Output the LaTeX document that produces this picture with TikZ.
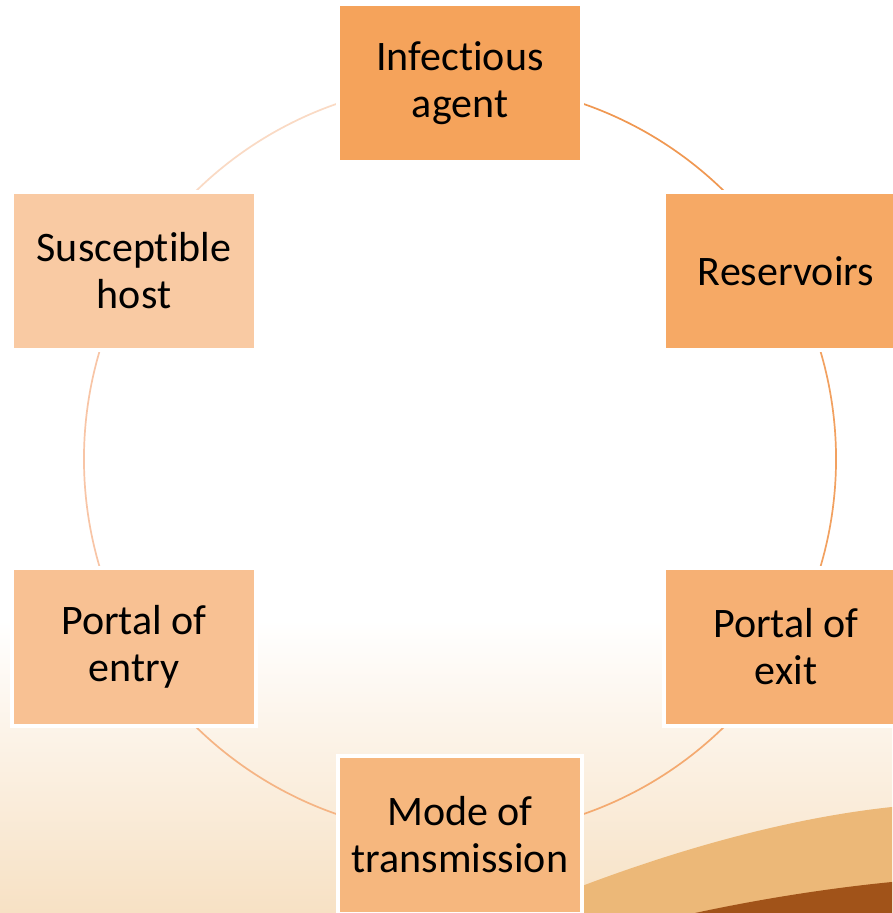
\documentclass[tikz,border=0pt]{standalone}
\usepackage{fontspec}
\setmainfont{Carlito}[Ligatures={NoCommon}]

\pgfdeclarelayer{backdrop}
\pgfdeclarelayer{ring}
\pgfsetlayers{backdrop,ring,main}

\begin{document}
\begin{tikzpicture}[x=1pt,y=1pt,
  stage/.style={draw=white,line width=4pt,inner sep=0pt,
    minimum width=244pt,minimum height=158pt,align=center,
    font=\fontsize{42}{47}\selectfont},
  link/.style={line width=1.7pt,bend left=30,looseness=0.91}]
\definecolor{creamColor}{RGB}{247,225,196}
\definecolor{tanColor}{RGB}{236,184,120}
\definecolor{brownColor}{RGB}{161,83,25}
\definecolor{agentColor}{RGB}{245,163,91}
\definecolor{resColor}{RGB}{246,169,101}
\definecolor{exitColor}{RGB}{246,176,116}
\definecolor{modeColor}{RGB}{246,183,126}
\definecolor{entryColor}{RGB}{248,193,147}
\definecolor{hostColor}{RGB}{249,202,163}
\path[use as bounding box] (0,0) rectangle (892,913);

% backdrop: cream fade and swoosh
\begin{pgfonlayer}{backdrop}
\path[fill=white] (0,0) rectangle (892,913);
\shade[top color=white,bottom color=creamColor] (0,0) rectangle (892,293);
\path[fill=tanColor] (515,0) .. controls (620,45) and (760,92) .. (892,106)
  -- (892,0) -- cycle;
\path[fill=brownColor] (695,0) .. controls (760,14) and (830,25) .. (892,31)
  -- (892,0) -- cycle;
\end{pgfonlayer}

% the six stages
\node[stage,fill=agentColor] (agent) at (460,830) {Infectious\\agent};
\node[stage,fill=resColor]   (res)   at (786,642) {Reservoirs};
\node[stage,fill=exitColor]  (exit)  at (786,266) {Portal of\\exit};
\node[stage,fill=modeColor]  (mode)  at (460,78)  {Mode of\\transmission};
\node[stage,fill=entryColor] (entry) at (134,266) {Portal of\\entry};
\node[stage,fill=hostColor]  (host)  at (134,642) {Susceptible\\host};

% ring between the stages
\begin{pgfonlayer}{ring}
\definecolor{drawColor}{RGB}{240,152,82}
\draw[link,drawColor] (agent.center) to (res.center);
\definecolor{drawColor}{RGB}{242,161,96}
\draw[link,drawColor] (res.center) to (exit.center);
\definecolor{drawColor}{RGB}{244,170,112}
\draw[link,drawColor] (exit.center) to (mode.center);
\definecolor{drawColor}{RGB}{245,180,132}
\draw[link,drawColor] (mode.center) to (entry.center);
\definecolor{drawColor}{RGB}{248,197,166}
\draw[link,drawColor] (entry.center) to (host.center);
\definecolor{drawColor}{RGB}{250,218,196}
\draw[link,drawColor] (host.center) to (agent.center);
\end{pgfonlayer}
\end{tikzpicture}
\end{document}
